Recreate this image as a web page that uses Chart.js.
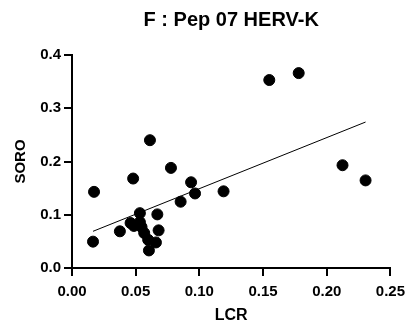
<!DOCTYPE html>
<html>
<head>
<meta charset="utf-8">
<script src="https://cdn.jsdelivr.net/npm/chart.js@4"></script>
<style>
  html, body { margin: 0; padding: 0; background: #fff; }
</style>
</head>
<body>
<canvas id="chart" width="412" height="329"></canvas>
<script>
// values
const lcr = [0.0173, 0.0165, 0.0376, 0.048, 0.046, 0.0486, 0.0533, 0.0533, 0.0546, 0.0567,
             0.0598, 0.0604, 0.0612, 0.0659, 0.067, 0.068, 0.0777, 0.0853, 0.0935, 0.0966,
             0.119, 0.1549, 0.178, 0.2124, 0.2305];
const soro = [0.143, 0.0495, 0.0689, 0.168, 0.0845, 0.079, 0.103, 0.0863, 0.077, 0.0657,
              0.053, 0.033, 0.240, 0.048, 0.1007, 0.0707, 0.188, 0.1245, 0.161, 0.140,
              0.144, 0.353, 0.366, 0.193, 0.1645];
const xTicks = [0, 0.05, 0.10, 0.15, 0.20, 0.25];
const yTicks = [0, 0.1, 0.2, 0.3, 0.4];

// least squares line over the points
const n = lcr.length;
const mx = lcr.reduce((a, b) => a + b, 0) / n;
const my = soro.reduce((a, b) => a + b, 0) / n;
let sxy = 0, sxx = 0;
for (let i = 0; i < n; i++) {
    sxy += (lcr[i] - mx) * (soro[i] - my);
    sxx += (lcr[i] - mx) ** 2;
}
const slope = sxy / sxx;
const intercept = my - slope * mx;
const xMin = Math.min(...lcr), xMax = Math.max(...lcr);
const fitLine = [xMin, xMax].map(x => ({ x: x, y: intercept + slope * x }));

const font = { family: 'Liberation Sans, Arial, sans-serif', weight: 'bold' };

const axisStyle = {
    grid: { display: true, drawOnChartArea: false, drawTicks: true, tickLength: 8, color: '#000', lineWidth: 2 },
    border: { display: true, color: '#000', width: 2 }
};

new Chart(document.getElementById('chart'), {
    type: 'scatter',
    data: {
        datasets: [
            {
                data: lcr.map((x, i) => ({ x: x, y: soro[i] })),
                backgroundColor: '#000',
                borderColor: '#000',
                pointRadius: 5.5,
                pointHoverRadius: 5.5
            },
            {
                data: fitLine,
                showLine: true,
                borderColor: '#000',
                borderWidth: 1,
                pointRadius: 0
            }
        ]
    },
    options: {
        responsive: false,
        animation: false,
        layout: { padding: { left: 0, right: 10, top: 0, bottom: 0 } },
        plugins: {
            legend: { display: false },
            tooltip: { enabled: false },
            title: {
                display: true,
                fullSize: false,
                text: 'F : Pep 07 HERV-K',
                color: '#000',
                font: { ...font, size: 20 },
                padding: { top: 8, bottom: 23 }
            }
        },
        scales: {
            x: {
                type: 'linear',
                min: 0,
                max: 0.25,
                afterBuildTicks: axis => { axis.ticks = xTicks.map(v => ({ value: v })); },
                afterFit: axis => { axis.height = 61; },
                ticks: {
                    color: '#000',
                    font: { ...font, size: 15 },
                    padding: 7,
                    maxRotation: 0,
                    callback: v => v.toFixed(2)
                },
                title: { display: true, text: 'LCR', color: '#000', font: { ...font, size: 16 }, padding: { top: 0, bottom: 4 } },
                ...axisStyle
            },
            y: {
                type: 'linear',
                min: 0,
                max: 0.4,
                afterBuildTicks: axis => { axis.ticks = yTicks.map(v => ({ value: v })); },
                afterFit: axis => { axis.width = 72; },
                ticks: {
                    color: '#000',
                    font: { ...font, size: 15 },
                    padding: 3,
                    callback: v => v.toFixed(1)
                },
                title: { display: true, text: 'SORO', color: '#000', font: { ...font, size: 15 }, padding: { top: 12, bottom: 0 } },
                ...axisStyle
            }
        }
    }
});
</script>
</body>
</html>
